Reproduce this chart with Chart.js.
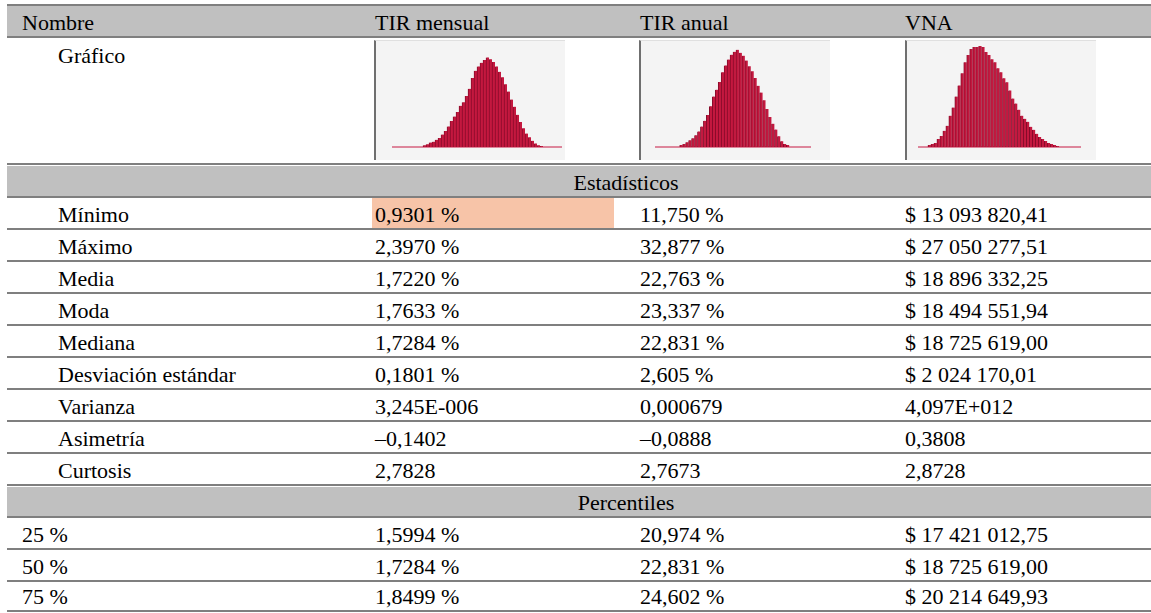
<!DOCTYPE html>
<html>
<head>
<meta charset="utf-8">
<script src="https://cdn.jsdelivr.net/npm/chart.js@4.4.0/dist/chart.umd.min.js"></script>
<style>
html,body{margin:0;padding:0;background:#fff;}
body{width:1151px;height:613px;position:relative;overflow:hidden;font-family:"Liberation Serif","Times New Roman",serif;font-size:22px;color:#000;}
.ln{position:absolute;left:7px;right:0;height:2px;background:#7f7f7f;}
.band{position:absolute;left:7px;right:0;background:#c0c0c0;}
.hl{position:absolute;background:#f7c4a8;}
.t{position:absolute;white-space:nowrap;line-height:22px;}
.box{position:absolute;top:40px;height:119px;background:#f4f4f4;border-left:2px solid #6f6f6f;border-top:1px solid #e0e0e0;}
.box canvas{display:block;}
</style>
</head>
<body>
<div id="page"></div>
<script>
// texto de la tabla
const headers = ['Nombre', 'TIR mensual', 'TIR anual', 'VNA']
const statLabels = ['Mínimo', 'Máximo', 'Media', 'Moda', 'Mediana', 'Desviación estándar', 'Varianza', 'Asimetría', 'Curtosis']
const statMensual = ['0,9301 %', '2,3970 %', '1,7220 %', '1,7633 %', '1,7284 %', '0,1801 %', '3,245E-006', '–0,1402', '2,7828']
const statAnual = ['11,750 %', '32,877 %', '22,763 %', '23,337 %', '22,831 %', '2,605 %', '0,000679', '–0,0888', '2,7673']
const statVna = ['$ 13 093 820,41', '$ 27 050 277,51', '$ 18 896 332,25', '$ 18 494 551,94', '$ 18 725 619,00', '$ 2 024 170,01', '4,097E+012', '0,3808', '2,8728']
const pctLabels = ['25 %', '50 %', '75 %']
const pctMensual = ['1,5994 %', '1,7284 %', '1,8499 %']
const pctAnual = ['20,974 %', '22,831 %', '24,602 %']
const pctVna = ['$ 17 421 012,75', '$ 18 725 619,00', '$ 20 214 649,93']

// histogramas (frecuencia relativa, % del pico)
const binsMensual = [0,0,0,0,0,0,0,0,0,0,
  2,3,5,6,8,10,14,18,23,29,
  34,39,46,50,57,65,77,85,90,94,
  97,100,98,95,90,84,78,70,62,53,
  45,36,28,21,15,11,7,4,2,1,
  0,0,0,0,0,0]
const binsAnual = [0,0,0,0,0,0,0,0,
  2,3,5,7,9,12,16,21,27,33,
  42,52,59,67,77,84,90,95,98,100,
  97,94,89,83,78,71,63,56,48,39,
  31,24,18,11,6,3,2,
  0,0,0,0,0,0,0]
const binsVna = [0,0,0,
  2,3,4,8,11,16,21,31,39,50,
  61,73,84,91,97,99,99,100,99,94,
  91,87,84,78,74,68,64,56,48,43,
  37,31,28,25,20,17,13,10,8,6,
  4,3,2,1,
  0,0,0,0,0,0,0]

const page = document.getElementById('page')
const colX = [22, 375, 640, 905]
const indentX = 58

function el(cls, css, text){
  const d = document.createElement('div')
  d.className = cls
  Object.assign(d.style, css)
  if(text !== undefined) d.textContent = text
  page.appendChild(d)
  return d
}
// baseline -> top del bloque de texto
function txt(x, base, s){
  return el('t', {left: x + 'px', top: (base - 18.4) + 'px'}, s)
}

// filas: alto de linea a linea
const rows = []
rows.push({kind: 'head', h: 33})
rows.push({kind: 'chart', h: 127})
rows.push({kind: 'section', h: 33, text: 'Estadísticos'})
statLabels.forEach((s, i) => rows.push({kind: 'stat', h: 32, cells: [s, statMensual[i], statAnual[i], statVna[i]]}))
rows.push({kind: 'section', h: 32, text: 'Percentiles'})
pctLabels.forEach((s, i) => rows.push({kind: 'pct', h: i == 2 ? 30 : 32, cells: [s, pctMensual[i], pctAnual[i], pctVna[i]]}))

let y = 4
el('ln', {top: y + 'px'})
rows.forEach(r => {
  const top = y, bottom = y + r.h
  if(r.kind == 'head' || r.kind == 'section')
    el('band', {top: (top + 2) + 'px', height: (r.h - 2) + 'px'})
  if(r.kind == 'stat' && r.cells[0] == 'Mínimo')
    el('hl', {left: '372px', width: '242px', top: (top + 1) + 'px', height: (r.h - 1) + 'px'})
  if(r.kind == 'head'){
    headers.forEach((h, i) => txt(colX[i], bottom - 7, h))
  } else if(r.kind == 'chart'){
    txt(indentX, top + 26, 'Gráfico')
  } else if(r.kind == 'section'){
    const d = txt(626, bottom - 7, r.text)
    d.style.transform = 'translateX(-50%)'
  } else {
    r.cells.forEach((c, i) => txt(i == 0 ? (r.kind == 'stat' ? indentX : colX[0]) : colX[i], bottom - 7, c))
  }
  y = bottom
  el('ln', {top: (y - 1) + 'px'})
})

// graficos
function histo(x, w, bins, yMax, pad){
  const box = el('box', {left: x + 'px', width: w + 'px'})
  const cv = document.createElement('canvas')
  cv.width = w; cv.height = 118
  box.appendChild(cv)
  new Chart(cv, {
    type: 'bar',
    data: {
      labels: bins.map((v, i) => String(i + 1)),
      datasets: [{
        data: bins,
        backgroundColor: '#c4183f',
        borderColor: '#860a29',
        borderWidth: {left: 1, right: 0, top: 0, bottom: 0},
        borderSkipped: false,
        barPercentage: 1,
        categoryPercentage: 1
      }]
    },
    options: {
      responsive: false,
      animation: false,
      layout: {padding: pad},
      plugins: {legend: {display: false}, tooltip: {enabled: false}},
      scales: {
        x: {grid: {display: false}, ticks: {display: false}, border: {display: true, color: 'rgba(205,60,95,0.6)', width: 2}},
        y: {display: false, min: 0, max: yMax}
      }
    }
  })
}
histo(374, 189, binsMensual, 115, {left: 17, right: 4, top: 3, bottom: 4})
histo(639, 189, binsAnual, 106, {left: 15, right: 20, top: 3, bottom: 4})
histo(905, 189, binsVna, 102, {left: 12, right: 16, top: 3, bottom: 4})
</script>
</body>
</html>
